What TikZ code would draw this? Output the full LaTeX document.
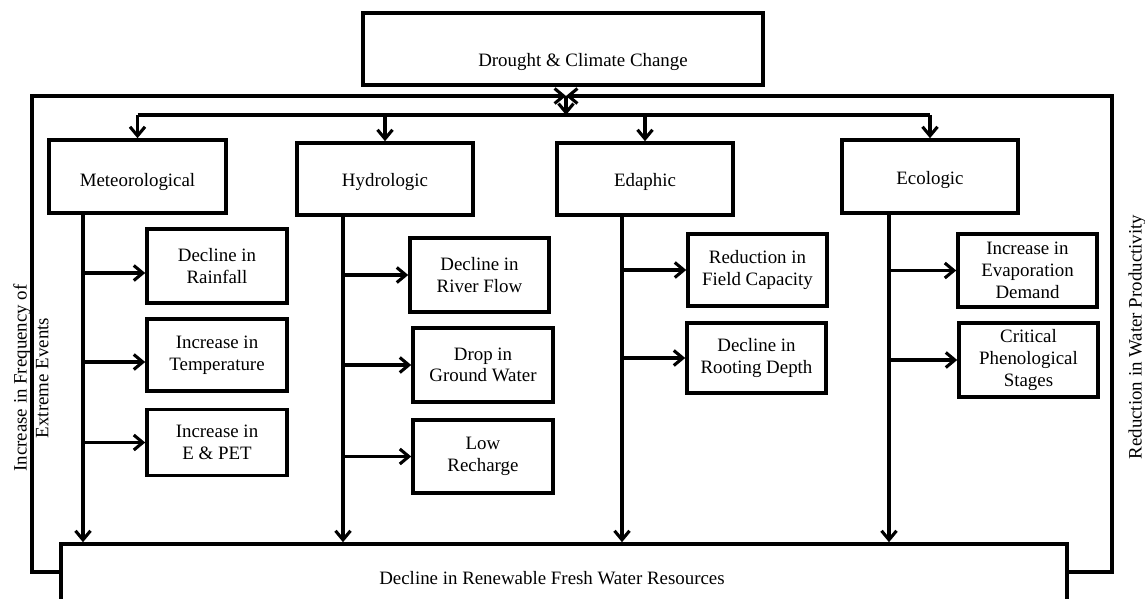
\documentclass[tikz,border=0pt]{standalone}
\usepackage{fontspec}
\setmainfont{Liberation Serif}
\usetikzlibrary{arrows.meta}
\begin{document}
\begin{tikzpicture}[x=1pt,y=-1pt,
  txt/.style={font=\fontsize{18.9}{21.7}\selectfont, align=center, inner sep=0pt},
  box/.style={txt, draw, line width=3.6pt, minimum width=139pt, minimum height=73pt},
  catbox/.style={box, minimum width=176pt, minimum height=72pt, text height=19pt, text depth=4pt},
  link/.style={line width=3.1pt},
  arr/.style={link, -{Straight Barb[length=9pt,width=15pt]}}]
\useasboundingbox (0,0) rectangle (1145,599);
\clip (0,0) rectangle (1145,599);

% top and bottom boxes
\node[box, minimum width=400pt, minimum height=72pt] (top) at (563,49) {};
\node[txt] (toptext) at (583,62) {Drought \& Climate Change};
\node[box, minimum width=1006pt, minimum height=68pt] (res) at (564,578) {};
\node[txt] (restext) at (552,578) {Decline in Renewable Fresh Water Resources};

% categories
\node[catbox, minimum width=177pt, minimum height=73pt, text height=23pt] (met) at (137.5,176.5) {Meteorological};
\node[catbox] (hyd) at (385,179) {Hydrologic};
\node[catbox] (eda) at (645,179) {Edaphic};
\node[catbox, minimum height=73pt] (eco) at (930,176.5) {Ecologic};

% effects
\node[box, minimum width=140pt, minimum height=74pt] (r1) at (217,266) {Decline in\\Rainfall};
\node[box, minimum width=140pt, minimum height=72pt] (r2) at (217,355) {Increase in\\Temperature};
\node[box, minimum width=140pt, minimum height=66pt] (r3) at (217,442.5) {Increase in\\E \& PET};
\node[box, minimum height=74pt] (h1) at (479.5,275) {Decline in\\River Flow};
\node[box, minimum width=140pt, minimum height=74pt] (h2) at (483,365) {Drop in\\Ground Water};
\node[box, minimum width=140pt] (h3) at (483,456.5) {Low\\Recharge};
\node[box, minimum height=72pt] (e1) at (757.5,270) {Reduction in\\Field Capacity};
\node[box, minimum height=70pt] (e2) at (756.5,358) {Decline in\\Rooting Depth};
\node[box] (c1) at (1027.5,270.5) {Increase in\\Evaporation\\Demand};
\node[box, minimum height=74pt] (c2) at (1028.5,360) {Critical\\Phenological\\Stages};

% side labels
\node[txt, rotate=90] (freq) at (31,378) {Increase in Frequency of\\Extreme Events};
\node[txt, rotate=90] (prod) at (1137,337) {Reduction in Water Productivity};

% feedback frame converging on the junction
\coordinate (jn) at (566,96);
\coordinate (dl) at (0,115);
\draw[arr] ([yshift=6pt]res.west) -| (32,96) -- (jn);
\draw[arr] ([yshift=6pt]res.east) -| (1112,96) -- (jn);
\draw[arr] (jn) -- (jn |- dl);

% distribution to the categories
\draw[link] (met.north |- dl) -- (eco.north |- dl);
\foreach \c in {met,hyd,eda,eco}
  \draw[arr] (\c.north |- dl) -- (\c.north);

% trunks down to the resources box
\coordinate (tm) at (83,0);
\coordinate (th) at (343,0);
\coordinate (te) at (622,0);
\coordinate (tc) at (889,0);
\draw[arr] (tm |- met.south) -- (tm |- res.north);
\draw[arr] (th |- hyd.south) -- (th |- res.north);
\draw[arr] (te |- eda.south) -- (te |- res.north);
\draw[arr] (tc |- eco.south) -- (tc |- res.north);

% branches to the effects
\draw[arr] (tm |- r1.west) ++(0,7) -- ([yshift=-7pt]r1.west);
\draw[arr] (tm |- r2.west) ++(0,7) -- ([yshift=-7pt]r2.west);
\draw[arr] (tm |- r3.west) -- (r3.west);
\draw[arr] (th |- h1.west) -- (h1.west);
\draw[arr] (th |- h2.west) -- (h2.west);
\draw[arr] (th |- h3.west) -- (h3.west);
\draw[arr] (te |- e1.west) -- (e1.west);
\draw[arr] (te |- e2.west) -- (e2.west);
\draw[arr] (tc |- c1.west) -- (c1.west);
\draw[arr] (tc |- c2.west) -- (c2.west);
\end{tikzpicture}
\end{document}
